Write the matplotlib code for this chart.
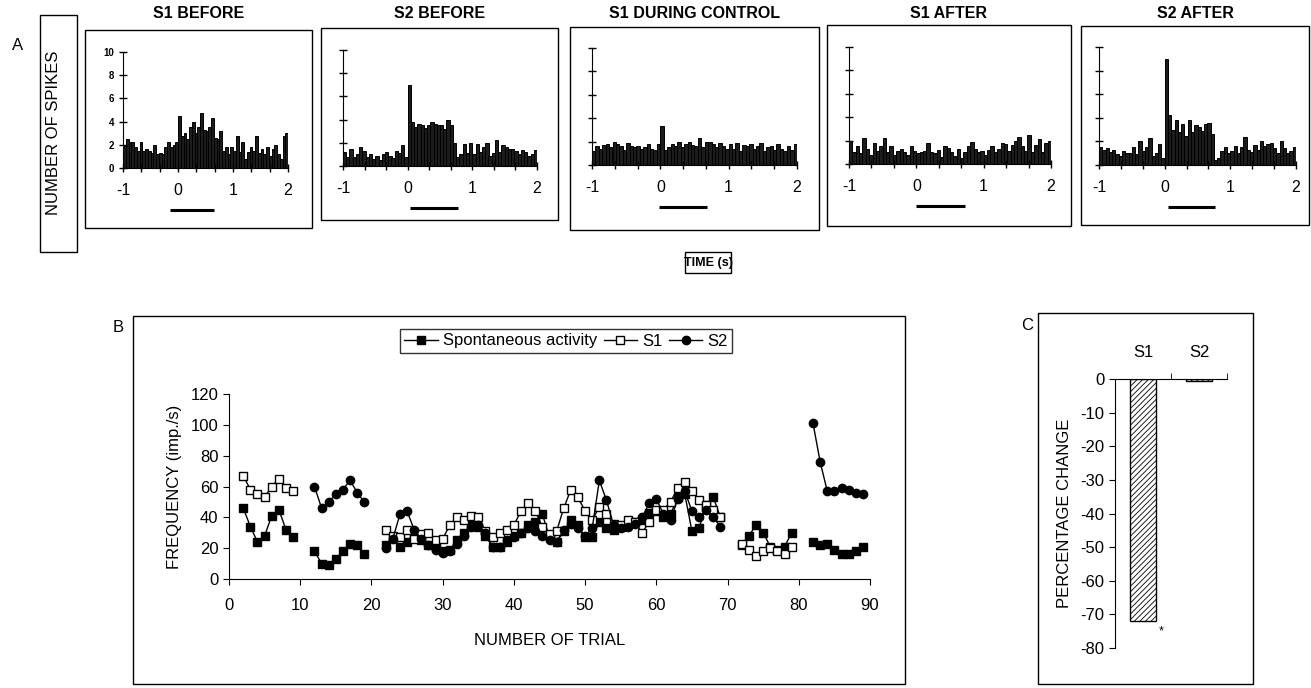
"""Spike histograms, trial-by-trial firing and percentage change for S1/S2."""

import matplotlib.pyplot as plt
import numpy as np
from matplotlib.patches import Rectangle

plt.rcParams['font.family'] = ['Liberation Sans', 'DejaVu Sans']
plt.rcParams['axes.unicode_minus'] = False
plt.rcParams['hatch.linewidth'] = 0.6

W, H = 1311, 688

# ---- A: peri-stimulus histograms, 50 ms bins from -1 s to 2 s ----
bin_edges = np.linspace(-1, 2, 61)
psth_titles = ["S1 BEFORE", "S2 BEFORE", "S1 DURING CONTROL", "S1 AFTER", "S2 AFTER"]

s1_before = [2.0, 2.5, 2.2, 2.2, 1.8, 1.5, 2.2, 1.5, 1.6, 1.5, 1.3, 2.0, 1.2, 1.3, 1.2, 1.8, 2.2, 1.8, 2.0, 2.2,
             4.5, 2.8, 3.0, 2.5, 3.5, 4.0, 3.0, 3.5, 4.7, 3.3, 3.2, 3.5, 4.3, 2.6, 2.5, 3.2, 1.5, 1.8, 1.2, 1.8,
             1.5, 2.8, 1.4, 2.2, 0.8, 1.4, 1.8, 1.5, 2.8, 1.3, 1.6, 1.2, 1.8, 1.0, 1.6, 2.0, 1.2, 0.8, 2.8, 3.0]
s2_before = [1.2, 0.8, 1.5, 0.8, 1.0, 1.6, 1.3, 0.8, 1.0, 0.6, 0.9, 0.5, 1.0, 1.2, 0.9, 0.7, 1.3, 1.1, 1.8, 0.8,
             7.0, 3.8, 3.4, 3.6, 3.5, 3.3, 3.5, 3.8, 3.6, 3.5, 3.5, 3.2, 4.0, 3.5, 2.0, 0.8, 1.0, 1.9, 1.1, 2.0,
             1.0, 1.9, 1.2, 1.6, 2.0, 0.9, 1.1, 2.2, 1.2, 1.8, 1.6, 1.5, 1.5, 1.3, 1.0, 1.4, 1.2, 0.9, 1.0, 1.4]
s1_during = [1.2, 1.6, 1.4, 1.7, 1.8, 1.5, 2.0, 1.8, 1.6, 1.3, 1.9, 1.6, 1.5, 1.6, 1.4, 1.5, 1.8, 1.4, 1.3, 1.8,
             3.3, 1.3, 1.5, 1.8, 1.6, 2.0, 1.5, 1.8, 2.0, 1.7, 1.6, 2.3, 1.5, 2.0, 2.0, 1.8, 1.5, 1.9, 1.6, 1.4,
             1.8, 1.4, 1.9, 1.2, 1.7, 1.6, 1.8, 1.4, 1.6, 1.9, 1.2, 1.5, 1.6, 1.3, 1.8, 1.4, 1.2, 1.6, 1.3, 1.8]
s1_after = [2.0, 1.0, 1.5, 0.9, 2.2, 1.3, 0.8, 1.8, 1.1, 1.5, 2.2, 1.0, 1.5, 0.8, 1.1, 1.3, 1.0, 0.8, 1.5, 1.1,
            0.9, 1.0, 1.1, 1.8, 1.0, 0.9, 1.2, 0.6, 1.5, 1.4, 1.0, 0.7, 1.3, 0.5, 1.0, 1.5, 1.9, 1.3, 1.0, 1.1,
            0.8, 1.2, 1.5, 1.0, 1.3, 1.8, 1.7, 1.1, 1.6, 2.0, 2.3, 1.5, 1.1, 2.5, 1.0, 1.6, 2.1, 1.0, 1.8, 2.0]
s2_after = [1.5, 1.3, 1.4, 1.1, 1.3, 0.9, 0.8, 1.2, 1.0, 1.0, 1.5, 0.9, 2.0, 1.2, 1.5, 2.3, 0.8, 1.0, 1.8, 0.6,
            9.0, 4.2, 3.0, 3.8, 2.8, 3.5, 2.5, 3.8, 2.8, 3.4, 3.2, 2.9, 3.5, 3.6, 2.6, 0.4, 0.6, 1.2, 1.5, 1.0,
            1.2, 1.6, 1.0, 1.5, 2.4, 1.3, 1.1, 1.7, 1.3, 2.0, 1.6, 1.8, 1.9, 1.4, 1.0, 2.0, 1.4, 1.0, 1.2, 1.5]
psth_counts = [s1_before, s2_before, s1_during, s1_after, s2_after]

stim_on = [-0.15, 0.03, -0.02, 0.0, 0.05]
stim_off = [0.65, 0.78, 0.68, 0.72, 0.76]

# ---- B: firing frequency per trial, in blocks of trials ----
trial_blocks = [(2, 9), (12, 19), (22, 69), (72, 79), (82, 89)]
spont_blocks = [
    [46, 34, 24, 28, 41, 45, 32, 27],
    [18, 10, 9, 13, 18, 23, 22, 16],
    [22, 27, 21, 24, 30, 25, 22, 20, 18, 19, 25, 30, 35, 34, 28, 21, 21, 24, 28, 30,
     35, 37, 42, 27, 24, 31, 38, 35, 27, 27, 37, 33, 32, 34, 36, 37, 38, 43, 44, 40,
     42, 53, 55, 31, 33, 48, 53, 40],
    [22, 28, 35, 30, 21, 19, 21, 30],
    [24, 22, 23, 19, 16, 16, 18, 21],
]
s1_blocks = [
    [67, 58, 55, 53, 60, 65, 59, 57],
    None,
    [32, 28, 27, 32, 26, 29, 30, 25, 26, 35, 40, 38, 41, 40, 31, 27, 30, 32, 35, 44,
     49, 44, 34, 29, 31, 46, 58, 53, 44, 38, 47, 42, 36, 35, 38, 37, 30, 37, 45, 45,
     50, 59, 63, 57, 51, 48, 45, 40],
    [23, 19, 15, 18, 20, 18, 16, 21],
    None,
]
s2_blocks = [
    None,
    [60, 46, 50, 55, 58, 64, 56, 50],
    [20, 26, 42, 44, 32, 26, 22, 19, 17, 18, 23, 28, 34, 35, 30, 21, 21, 25, 27, 30,
     33, 31, 28, 25, 24, 32, 36, 33, 28, 33, 64, 51, 35, 33, 34, 36, 40, 49, 52, 42,
     38, 52, 57, 44, 40, 45, 40, 34],
    None,
    [101, 76, 57, 57, 59, 58, 56, 55],
]

# ---- C: percentage change ----
bar_labels = ["S1", "S2"]
pct_change = [-72, -0.5]


def fig_rect(l, t, r, b):
    return [l / W, 1 - b / H, (r - l) / W, (b - t) / H]


def frame(fig, l, t, r, b):
    fig.add_artist(Rectangle((l / W, 1 - b / H), (r - l) / W, (b - t) / H,
                             transform=fig.transFigure, fill=False,
                             edgecolor="black", linewidth=1))


def join_blocks(blocks):
    xs, ys = [], []
    for (start, end), vals in zip(trial_blocks, blocks):
        if vals is None:
            continue
        xs += list(range(start, end + 1)) + [np.nan]
        ys += list(vals) + [np.nan]
    return np.array(xs, float), np.array(ys, float)


fig = plt.figure(figsize=(W / 100, H / 100), dpi=100)

# panel A
axes_px = [(123, 52, 288, 168), (343, 50, 537, 166), (592, 48, 797, 165),
           (849, 47, 1051, 164), (1099, 47, 1296, 165)]
boxes_px = [(85, 30, 312, 228), (321, 28, 558, 220), (570, 27, 819, 230),
            (827, 25, 1071, 226), (1081, 26, 1309, 225)]
xticks = np.linspace(-1, 2, 10)
xlabels = ["-1", "", "", "0", "", "", "1", "", "", "2"]

for i, (title, counts) in enumerate(zip(psth_titles, psth_counts)):
    l, t, r, b = axes_px[i]
    ax = fig.add_axes(fig_rect(l, t, r, b))
    ax.bar(bin_edges[:-1], counts, width=0.05, align="edge",
           color="#1c1c1c", edgecolor="black", linewidth=0.7)
    ax.set_xlim(-1, 2)
    ax.set_ylim(0, 10)
    for s in ("top", "right"):
        ax.spines[s].set_visible(False)
    ax.set_xticks(xticks, xlabels, fontsize=11.5)
    ax.set_yticks([0, 2, 4, 6, 8, 10])
    ax.tick_params(direction="inout", length=6, width=1)
    ax.tick_params(axis="x", pad=8)
    if i == 0:
        ax.set_yticklabels(["0", "2", "4", "6", "8", "10"], fontsize=7, fontweight="bold")
    else:
        ax.set_yticklabels([])
    ax.plot([stim_on[i], stim_off[i]], [-3.6, -3.6], color="black", lw=2.2,
            clip_on=False, solid_capstyle="butt")
    frame(fig, *boxes_px[i])
    bl, bt, br, bb = boxes_px[i]
    fig.text((bl + br) / 2 / W, 1 - 14 / H, title, ha="center", va="center",
             fontsize=11.5, fontweight="bold")

fig.text(12 / W, 1 - 45 / H, "A", fontsize=12, ha="left", va="center")
frame(fig, 40, 15, 77, 252)
fig.text(54 / W, 1 - 133 / H, "NUMBER OF SPIKES", rotation=90, ha="center",
         va="center", fontsize=12)
frame(fig, 685, 252, 731, 273)
fig.text(708 / W, 1 - 263 / H, "TIME (s)", ha="center", va="center",
         fontsize=9, fontweight="bold")

# panel B
frame(fig, 133, 316, 905, 684)
fig.text(118 / W, 1 - 327 / H, "B", fontsize=12, ha="center", va="center")
axb = fig.add_axes(fig_rect(229, 394, 870, 579))
x, y = join_blocks(spont_blocks)
axb.plot(x, y, color="black", lw=1, marker="s", ms=6, mfc="black", mec="black",
         label="Spontaneous activity")
x, y = join_blocks(s1_blocks)
axb.plot(x, y, color="black", lw=1, marker="s", ms=6, mfc="white", mec="black",
         mew=1, label="S1")
x, y = join_blocks(s2_blocks)
axb.plot(x, y, color="black", lw=1, marker="o", ms=6, mfc="black", mec="black",
         label="S2")
axb.set_xlim(0, 90)
axb.set_ylim(0, 120)
axb.set_xticks(range(0, 91, 10))
axb.set_yticks(range(0, 121, 20))
for s in ("top", "right"):
    axb.spines[s].set_visible(False)
axb.tick_params(direction="out", length=4, labelsize=12)
axb.tick_params(axis="x", pad=10)
axb.set_xlabel("NUMBER OF TRIAL", fontsize=12, labelpad=14)
axb.set_ylabel("FREQUENCY (imp./s)", fontsize=12, labelpad=6)
leg = axb.legend(loc="center", bbox_to_anchor=(566 / W, 1 - 341 / H),
                 bbox_transform=fig.transFigure, ncol=3, frameon=True,
                 fancybox=False, edgecolor="black", fontsize=12,
                 handlelength=2.0, handletextpad=0.3, columnspacing=0.4,
                 borderpad=0.25, borderaxespad=0)
leg.get_frame().set_linewidth(1)

# panel C
frame(fig, 1038, 313, 1253, 684)
fig.text(1027 / W, 1 - 326 / H, "C", fontsize=12, ha="center", va="center")
axc = fig.add_axes(fig_rect(1115, 379, 1227, 648))
axc.bar(range(len(bar_labels)), pct_change, width=0.45, color="white",
        edgecolor="black", linewidth=1, hatch="//////")
axc.set_xlim(-0.5, 1.5)
axc.set_ylim(-80, 0)
axc.spines["right"].set_visible(False)
axc.spines["bottom"].set_visible(False)
axc.xaxis.tick_top()
axc.set_xticks([0, 1], bar_labels, fontsize=12)
axc.set_xticks([0.5, 1.5], minor=True)
axc.tick_params(axis="x", which="major", length=0, pad=14)
axc.tick_params(axis="x", which="minor", direction="out", length=4)
axc.set_yticks(range(-80, 1, 10))
axc.tick_params(axis="y", direction="out", length=4, labelsize=12)
axc.set_ylabel("PERCENTAGE CHANGE", fontsize=12, labelpad=6)
axc.text(0.32, -75, "*", ha="center", va="center", fontsize=9)

fig.savefig("out.png", dpi=100)
